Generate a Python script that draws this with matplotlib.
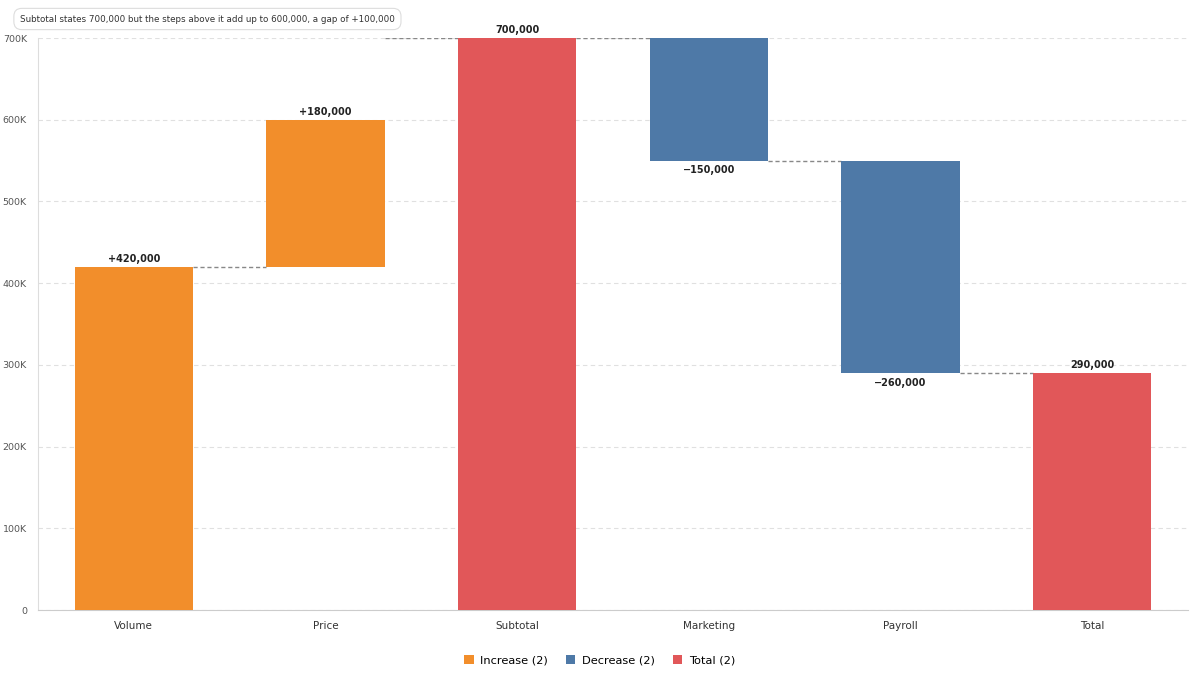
import matplotlib
matplotlib.use("Agg")
import matplotlib.pyplot as plt
from matplotlib.patches import Patch
from matplotlib.ticker import FuncFormatter, MultipleLocator

categories = ["Volume", "Price", "Subtotal", "Marketing", "Payroll", "Total"]
kinds = ["increase", "increase", "total", "decrease", "decrease", "total"]
values = [420000, 180000, 700000, -150000, -260000, 290000]
labels = ["+420,000", "+180,000", "700,000", "\u2212150,000", "\u2212260,000", "290,000"]
legend_labels = ["Increase (2)", "Decrease (2)", "Total (2)"]
note = "Subtotal states 700,000 but the steps above it add up to 600,000, a gap of +100,000"

colors = {"increase": "#F28E2B", "decrease": "#4E79A7", "total": "#E15759"}

plt.rcParams["font.family"] = ["DejaVu Sans"]
fig = plt.figure(figsize=(12, 6.8), dpi=100)
ax = fig.add_axes([38 / 1200, 1 - 610 / 680, 1150 / 1200, 572 / 680])

bottoms, tops = [], []
running = 0
for k, v in zip(kinds, values):
    if k == "total":
        b, t = 0, v
        running = v
    else:
        b = running
        running = running + v
        t = running
    bottoms.append(min(b, t))
    tops.append(max(b, t))

x = list(range(len(categories)))
width = 0.616
for i, (k, b, t) in enumerate(zip(kinds, bottoms, tops)):
    ax.bar(i, t - b, bottom=b, width=width, color=colors[k], zorder=3)

# connectors
for i in range(len(categories) - 1):
    if kinds[i + 1] == "total":
        level = values[i + 1]
    else:
        level = tops[i] if (kinds[i] == "total" or values[i] > 0) else bottoms[i]
    ax.plot([i + width / 2, i + 1 - width / 2], [level, level], color="#888888",
            linestyle=(0, (3, 2)), linewidth=1, zorder=2)

# value labels
for i, (k, v) in enumerate(zip(kinds, values)):
    if k == "decrease":
        ax.annotate(labels[i], (i, bottoms[i]), xytext=(0, -3.5), textcoords="offset points",
                    ha="center", va="top", fontsize=7, fontweight="bold", color="#222222")
    else:
        ax.annotate(labels[i], (i, tops[i]), xytext=(0, 2), textcoords="offset points",
                    ha="center", va="bottom", fontsize=7, fontweight="bold", color="#222222")

ax.set_xlim(-0.5, len(categories) - 0.5)
ax.set_ylim(0, 700000)
ax.yaxis.set_major_locator(MultipleLocator(100000))
ax.yaxis.set_major_formatter(FuncFormatter(lambda v, p: "0" if v == 0 else f"{int(v/1000)}K"))
ax.set_xticks(x)
ax.set_xticklabels(categories)
ax.tick_params(axis="x", length=0, pad=8, labelsize=7.5, colors="#333333")
ax.tick_params(axis="y", length=0, pad=8, labelsize=6.8, colors="#555555")
ax.grid(axis="y", color="#e0e0e0", linestyle=(0, (4, 3)), linewidth=0.8, zorder=0)
ax.set_axisbelow(True)
for s in ["top", "right"]:
    ax.spines[s].set_visible(False)
ax.spines["left"].set_color("#dddddd")
ax.spines["bottom"].set_color("#cccccc")

fig.text(20 / 1200, 1 - 19 / 680, note, fontsize=6.3, color="#333333", ha="left", va="center",
         bbox=dict(boxstyle="round,pad=0.7,rounding_size=0.9", fc="white", ec="#dddddd", lw=0.8))

handles = [Patch(facecolor=colors[k], label=l) for k, l in zip(["increase", "decrease", "total"], legend_labels)]
fig.legend(handles=handles, loc="center", bbox_to_anchor=(0.5, 1 - 660 / 680), ncol=3, frameon=False,
           fontsize=8.2, handlelength=0.8, handleheight=0.8, handletextpad=0.6, columnspacing=1.6)

fig.savefig("out.png", dpi=100)
